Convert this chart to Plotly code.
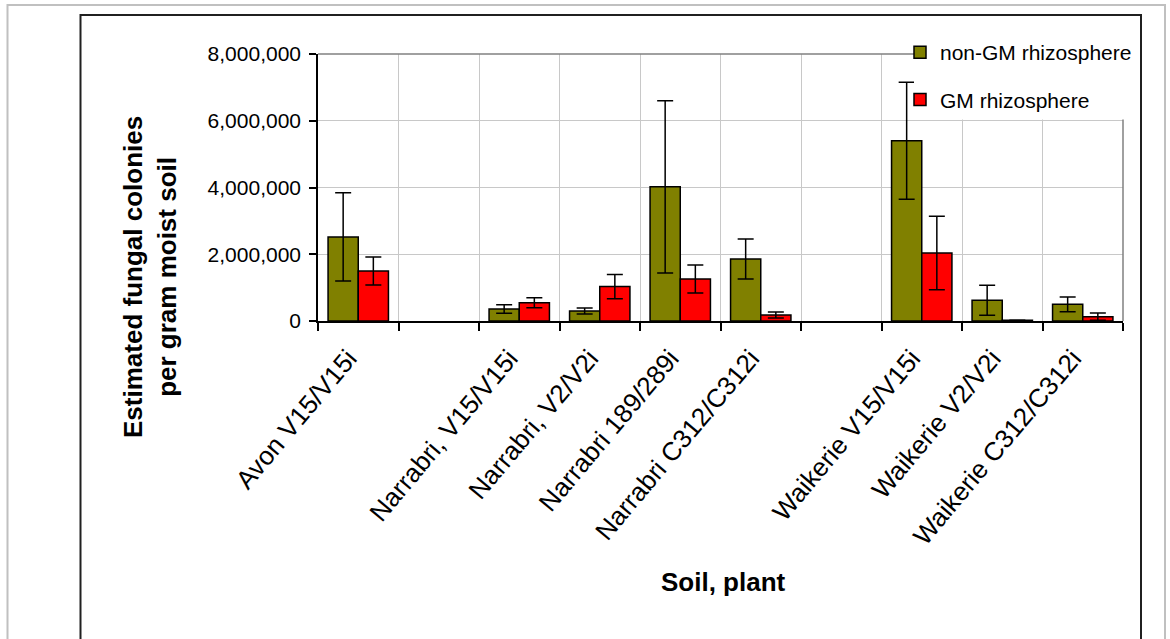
import plotly.graph_objects as go

categories = ["Avon V15/V15i", " ", "Narrabri, V15/V15i", "Narrabri, V2/V2i",
              "Narrabri 189/289i", "Narrabri C312/C312i", "  ",
              "Waikerie V15/V15i", "Waikerie V2/V2i", "Waikerie C312/C312i"]
non_gm = [2520000, None, 360000, 300000, 4020000, 1860000, None, 5400000, 620000, 500000]
non_gm_err = [1320000, 0, 130000, 90000, 2580000, 600000, 0, 1750000, 450000, 220000]
gm = [1500000, None, 550000, 1030000, 1260000, 180000, None, 2040000, 20000, 130000]
gm_err = [420000, 0, 150000, 360000, 420000, 90000, 0, 1100000, 0, 110000]
y_ticks = [0, 2000000, 4000000, 6000000, 8000000]

W, H = 1170, 639
L, R, T, B = 318, 47, 54, 318
PW, PH = W - L - R, H - T - B


def px(x):
    return (x - L) / PW


def py(y):
    return (H - B - y) / PH


FONT = "Liberation Sans, Arial, sans-serif"

fig = go.Figure()
fig.add_trace(go.Bar(
    x=categories, y=non_gm, name="non-GM rhizosphere", legendgroup="a",
    marker=dict(color="#808000", line=dict(color="black", width=1.5)),
    error_y=dict(type="data", array=non_gm_err, visible=True, color="black",
                 thickness=1.5, width=8),
))
fig.add_trace(go.Bar(
    x=categories, y=gm, name="GM rhizosphere", legendgroup="b",
    marker=dict(color="#ff0000", line=dict(color="black", width=1.5)),
    error_y=dict(type="data", array=gm_err, visible=True, color="black",
                 thickness=1.5, width=8),
))

shapes = [
    # plot area top and right border
    dict(type="line", xref="paper", yref="paper", x0=0, x1=1, y0=1, y1=1,
         line=dict(color="#808080", width=1.5)),
    dict(type="line", xref="paper", yref="paper", x0=1, x1=1, y0=0, y1=1,
         line=dict(color="#808080", width=1.5)),
    # legend backdrop
    dict(type="rect", xref="paper", yref="paper", x0=px(914), x1=px(1136),
         y0=py(119.5), y1=py(25), fillcolor="white", line=dict(width=0)),
    # outer light frame
    dict(type="rect", xref="paper", yref="paper", x0=px(7.5), x1=px(1165),
         y0=py(700), y1=py(5), line=dict(color="#c0c0c0", width=2)),
    # inner dark frame
    dict(type="rect", xref="paper", yref="paper", x0=px(80.5), x1=px(1141),
         y0=py(690), y1=py(15), line=dict(color="#202020", width=2)),
]

annotations = [
    dict(text="Estimated fungal colonies<br>per gram moist soil", xref="paper", yref="paper",
         x=px(150), y=py(277), textangle=-90, showarrow=False,
         xanchor="center", yanchor="middle",
         font=dict(family=FONT, size=26, color="black", weight="bold")),
    dict(text="Soil, plant", xref="paper", yref="paper",
         x=px(723), y=py(582), showarrow=False, xanchor="center", yanchor="middle",
         font=dict(family=FONT, size=26, color="black", weight="bold")),
]

fig.update_layout(
    width=W, height=H,
    margin=dict(l=L, r=R, t=T, b=B, autoexpand=False),
    paper_bgcolor="white", plot_bgcolor="white",
    barmode="group", bargap=0.25, bargroupgap=0,
    font=dict(family=FONT, color="black"),
    showlegend=True,
    legend=dict(x=px(900), y=py(32), xanchor="left", yanchor="top",
                bgcolor="rgba(0,0,0,0)", borderwidth=0,
                font=dict(family=FONT, size=21, color="black"),
                tracegroupgap=17, itemwidth=30),
    shapes=shapes,
    annotations=annotations,
    xaxis=dict(type="category", categoryorder="array", categoryarray=categories,
               tickson="boundaries", ticks="outside", ticklen=8, tickwidth=1.5,
               tickcolor="black", showgrid=True, gridcolor="#c8c8c8", gridwidth=1,
               showline=True, linecolor="black", linewidth=1.5,
               tickangle=-50, tickfont=dict(family=FONT, size=26, color="black"),
               ticklabelstandoff=10, ticklabelshift=-10,
               range=[-0.5, 9.5]),
    yaxis=dict(range=[0, 8000000], tickvals=y_ticks, tickformat=",d",
               ticks="outside", ticklen=7, tickwidth=1.5, tickcolor="black",
               showgrid=True, gridcolor="#c8c8c8", gridwidth=1, zeroline=False,
               showline=True, linecolor="black", linewidth=1.5,
               tickfont=dict(family=FONT, size=21, color="black"),
               ticklabelstandoff=4),
)

fig.write_html("out.html")
